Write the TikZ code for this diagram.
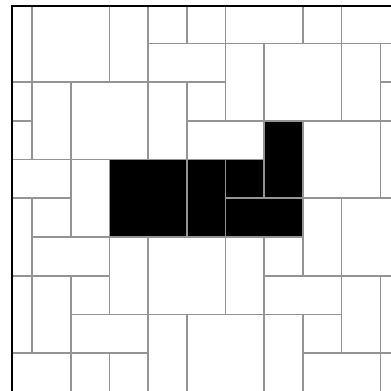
\documentclass[tikz,border=0pt]{standalone}
\tikzset{
  tile/.style={draw=black!42, line width=1.2pt, fill=white},
  btile/.style={tile, fill=black},
  frameline/.style={draw=black, line width=1.1pt}
}
\begin{document}
\begin{tikzpicture}[x=1cm,y=-1cm]
\useasboundingbox (-0.827,-1.124) rectangle (9.276,8.953);
\fill[white] (-0.827,-1.124) rectangle (9.276,8.953);
\begin{scope}
\clip (-0.517,-0.97) rectangle (9.6,9.3);
\foreach \a/\b/\c/\d in {
  -1/-1/0/1, 0/-1/2/1, 2/-1/3/1, 3/-1/4/0, 4/-1/5/0, 5/-1/7/0, 7/-1/8/0, 8/-1/10/0,
  3/0/5/1, 5/0/6/2, 6/0/8/2, 8/0/9/2, 9/0/10/1, 9/1/10/2,
  -1/1/0/2, 0/1/1/3, 1/1/3/3, 3/1/4/3, 4/1/5/2, -1/2/0/3, 4/2/6/3,
  7/2/9/4, 9/2/10/4,
  -1/3/1/4, 1/3/2/5, -1/4/0/6, 0/4/1/5, 0/5/2/6, 2/5/3/7, 3/5/5/7, 5/5/6/7,
  6/5/7/6, 7/4/8/6, 8/4/10/6, 6/6/8/7, 8/6/9/8, 9/6/10/8,
  -1/6/0/8, 0/6/1/8, 1/6/2/7, 1/7/3/8, 3/7/4/9, 4/7/6/9, 6/7/7/9,
  7/7/8/8, 7/8/9/9, 9/8/10/9, -1/8/1/9, 1/8/2/9, 2/8/3/9}
  \draw[tile] (\a,\b) rectangle (\c,\d);
\foreach \a/\b/\c/\d in {6/2/7/4, 2/3/4/5, 4/3/5/5, 5/3/6/4, 5/4/7/5}
  \draw[btile] (\a,\b) rectangle (\c,\d);
\end{scope}
\draw[frameline] (-0.517,9.3) -- (-0.517,-0.97) -- (9.6,-0.97);
\end{tikzpicture}
\end{document}
